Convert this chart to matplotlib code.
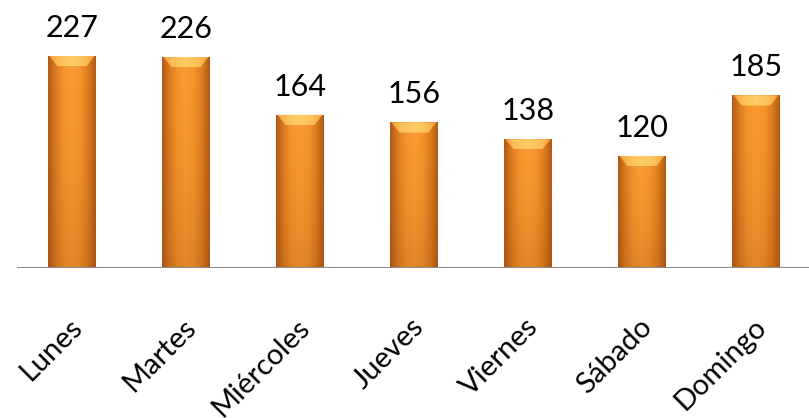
import numpy as np
import matplotlib
matplotlib.use("Agg")
import matplotlib.pyplot as plt
from matplotlib.colors import LinearSegmentedColormap
from matplotlib.patches import Polygon

dias = ["Lunes", "Martes", "Miércoles", "Jueves", "Viernes", "Sábado", "Domingo"]
valores = [227, 226, 164, 156, 138, 120, 185]

plt.rcParams['font.family'] = ['Lato', 'DejaVu Sans']

fig = plt.figure(figsize=(8.09, 4.18), dpi=100)
# baseline at y=268 px, first bar centre at x=72 px, spacing 114 px
ax = fig.add_axes([17 / 809, (418 - 268) / 418, 792 / 809, 268 / 418])
ax.set_xlim((17 - 72) / 114, (809 - 72) / 114)
ax.set_ylim(0, 287)

ancho = 0.42
x = np.arange(len(dias))
barras = ax.bar(x, valores, width=ancho, color="#F28C28", edgecolor="none", zorder=2)

# sombreado horizontal: bordes oscuros, centro brillante
perfil = ["#B25A16", "#DE7E1F", "#F5942D", "#FA9A32", "#F5942D", "#DE7E1F", "#B25A16"]
cmap = LinearSegmentedColormap.from_list("naranja", perfil)
grad = np.linspace(0, 1, 200)[None, :]
cmap_bisel = LinearSegmentedColormap.from_list(
    "bisel", ["#F7A540", "#FFC85E", "#FFD36E", "#FFC85E", "#F7A540"])
for b in barras:
    x0, w, h = b.get_x(), b.get_width(), b.get_height()
    im = ax.imshow(np.repeat(grad, 50, axis=0), cmap=cmap, aspect="auto",
                   extent=(x0, x0 + w, 0, h), zorder=3, interpolation="bilinear")
    im.set_clip_path(b)
    # un poco mas oscuro hacia abajo
    ov = np.zeros((100, 1, 4))
    ov[..., 0] = 0.55
    ov[..., 1] = 0.25
    ov[..., 2] = 0.05
    ov[..., 3] = 0.22 * np.linspace(0, 1, 100)[:, None] ** 2
    im2 = ax.imshow(ov, aspect="auto", extent=(x0, x0 + w, 0, h), zorder=4,
                    interpolation="bilinear")
    im2.set_clip_path(b)
    # bisel superior
    bev = 11
    dx = w * 0.2
    tapa = Polygon([(x0 + 0.03 * w, h), (x0 + 0.97 * w, h),
                    (x0 + w - dx, h - bev), (x0 + dx, h - bev)],
                   closed=True, facecolor="none", edgecolor="none", zorder=5)
    ax.add_patch(tapa)
    im3 = ax.imshow(np.repeat(grad, 10, axis=0), cmap=cmap_bisel, aspect="auto",
                    extent=(x0, x0 + w, h - bev, h), zorder=5, alpha=0.9,
                    interpolation="bilinear")
    im3.set_clip_path(tapa)
    ax.text(b.get_x() + w / 2, h + 15, f"{h:.0f}", ha="center", va="bottom",
            fontsize=22, color="black")

ax.axhline(0, color="#8C8C8C", lw=2.2, zorder=6)

for s in ax.spines.values():
    s.set_visible(False)
ax.set_yticks([])
ax.set_xticks(x - 0.03)
ax.set_xticklabels(dias, rotation=45, ha="right", rotation_mode="anchor",
                   fontsize=21)
ax.tick_params(axis="x", length=0, pad=33)

fig.savefig("out.png", dpi=100)
